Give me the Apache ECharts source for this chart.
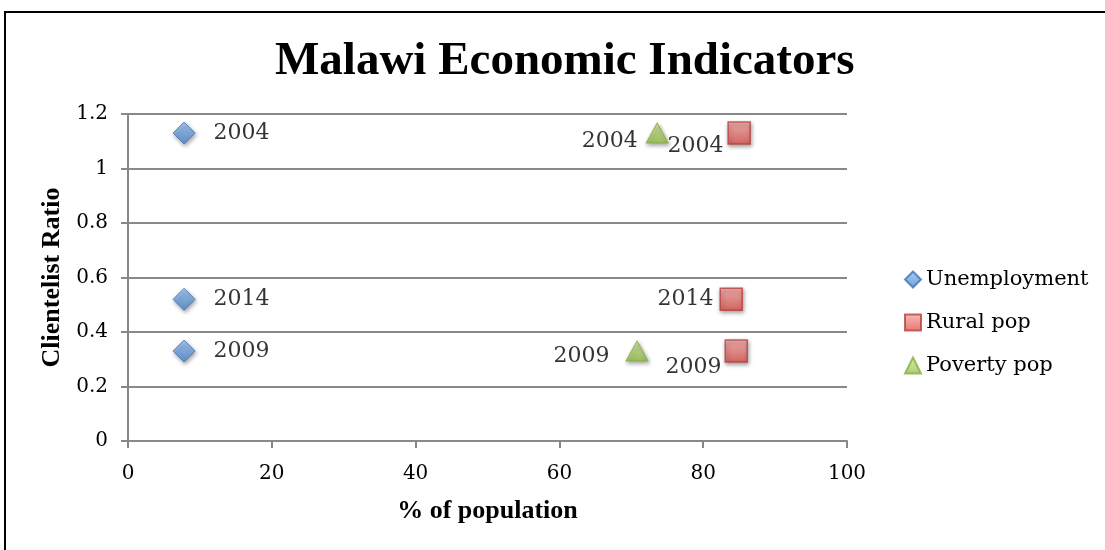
<!DOCTYPE html>
<html>
<head>
<meta charset="utf-8">
<script src="https://cdn.jsdelivr.net/npm/echarts@6/dist/echarts.min.js"></script>
<style>
  html, body { margin: 0; padding: 0; background: #fff; overflow: hidden; }
  #frame { position: absolute; left: 4px; top: 11px; width: 1200px; height: 600px; border: 2px solid #000; box-sizing: border-box; }
  #miGrafica { position: absolute; left: 0; top: 0; width: 1105px; height: 550px; }
</style>
</head>
<body>
<div id="frame"></div>
<div id="miGrafica"></div>
<script>
// Malawi: clientelist ratio vs % of population

var years = ['2004', '2014', '2009'];

var unempX = [7.8, 7.8, 7.8];
var unempY = [1.13, 0.52, 0.33];

var ruralX = [85.0, 83.9, 84.6];
var ruralY = [1.13, 0.52, 0.33];

var povertyYears = ['2004', '2009'];
var povertyX = [73.6, 70.8];
var povertyY = [1.13, 0.33];

var xTicks = [0, 20, 40, 60, 80, 100];
var yTicks = [0, 0.2, 0.4, 0.6, 0.8, 1, 1.2];

var serif = '"DejaVu Serif", serif';
var tickFont = { fontFamily: serif, fontSize: 20, color: '#000' };
var labelFont = { fontFamily: serif, fontSize: 22, color: '#000' };
var legendFont = { fontFamily: serif, fontSize: 21, color: '#000' };
var boldSerif = '"Liberation Serif", serif';

function grad(light, dark) {
    return new echarts.graphic.LinearGradient(0, 0, 0, 1, [
        { offset: 0, color: light },
        { offset: 1, color: dark }
    ]);
}

function points(xs, ys, names, labelOpts) {
    return xs.map(function (x, i) {
        var item = { value: [x, ys[i]], name: names[i] };
        if (labelOpts && labelOpts[i]) item.label = labelOpts[i];
        return item;
    });
}

var dom = document.getElementById('miGrafica');
var myChart = echarts.init(dom, null, { renderer: 'canvas' });

var shadow = { shadowBlur: 4, shadowColor: 'rgba(0,0,0,0.45)', shadowOffsetX: 1, shadowOffsetY: 2 };

var option = {
    animation: false,
    title: {
        text: 'Malawi Economic Indicators',
        left: 270,
        top: 33,
        textStyle: { fontFamily: boldSerif, fontWeight: 'bold', fontSize: 47, color: '#000' }
    },
    legend: {
        orient: 'vertical',
        left: 899,
        top: 264,
        itemGap: 22,
        itemWidth: 16,
        itemHeight: 16,
        textStyle: legendFont,
        data: ['Unemployment', 'Rural pop', 'Poverty pop']
    },
    grid: { left: 128, right: 258, top: 114, bottom: 109 },
    xAxis: {
        type: 'value',
        min: 0, max: 100, interval: 20,
        name: '% of population',
        nameLocation: 'middle',
        nameGap: 57,
        nameTextStyle: { fontFamily: boldSerif, fontWeight: 'bold', fontSize: 26, color: '#000' },
        axisLine: { show: true, lineStyle: { color: '#888', width: 2 } },
        axisTick: { show: true, length: 7, lineStyle: { color: '#888', width: 2 } },
        axisLabel: Object.assign({ margin: 23, formatter: function (v) { return xTicks.indexOf(v) >= 0 ? String(v) : ''; } }, tickFont),
        splitLine: { show: false }
    },
    yAxis: {
        type: 'value',
        min: 0, max: 1.2, interval: 0.2,
        name: 'Clientelist Ratio',
        nameLocation: 'middle',
        nameGap: 62,
        nameTextStyle: { fontFamily: boldSerif, fontWeight: 'bold', fontSize: 26, color: '#000' },
        axisLine: { show: true, lineStyle: { color: '#888', width: 2 } },
        axisTick: { show: true, length: 7, lineStyle: { color: '#888', width: 2 } },
        axisLabel: Object.assign({ margin: 20, formatter: function (v) { return String(+v.toFixed(1)); } }, tickFont),
        splitLine: { show: true, lineStyle: { color: '#888', width: 2 } }
    },
    series: [
        {
            name: 'Unemployment',
            type: 'scatter',
            symbol: 'diamond',
            symbolSize: 22,
            itemStyle: Object.assign({ color: grad('#94c0f2', '#4f86cf'), borderColor: '#3f73b5', borderWidth: 1 }, shadow),
            label: Object.assign({ show: true, position: 'right', distance: 18, formatter: '{b}' }, labelFont),
            data: points(unempX, unempY, years)
        },
        {
            name: 'Rural pop',
            type: 'scatter',
            symbol: 'rect',
            symbolSize: 22,
            itemStyle: Object.assign({ color: grad('#f7aaa8', '#e05450'), borderColor: '#b8403c', borderWidth: 1.5 }, shadow),
            label: Object.assign({ show: true, position: 'left', distance: 4, formatter: '{b}' }, labelFont),
            data: points(ruralX, ruralY, years, [
                { offset: [0, 13] },
                { distance: 6 },
                { offset: [0, 16], distance: 3 }
            ])
        },
        {
            name: 'Poverty pop',
            type: 'scatter',
            symbol: 'triangle',
            symbolSize: [22, 20],
            itemStyle: Object.assign({ color: grad('#cfe894', '#97c24c'), borderColor: '#86ad45', borderWidth: 1 }, shadow),
            label: Object.assign({ show: true, position: 'left', distance: 8, formatter: '{b}' }, labelFont),
            data: points(povertyX, povertyY, povertyYears, [
                { offset: [0, 8] },
                { offset: [0, 5], distance: 16 }
            ])
        }
    ]
};

if (option && typeof option === 'object') {
    myChart.setOption(option);
}

window.addEventListener('resize', myChart.resize);
</script>
</body>
</html>
